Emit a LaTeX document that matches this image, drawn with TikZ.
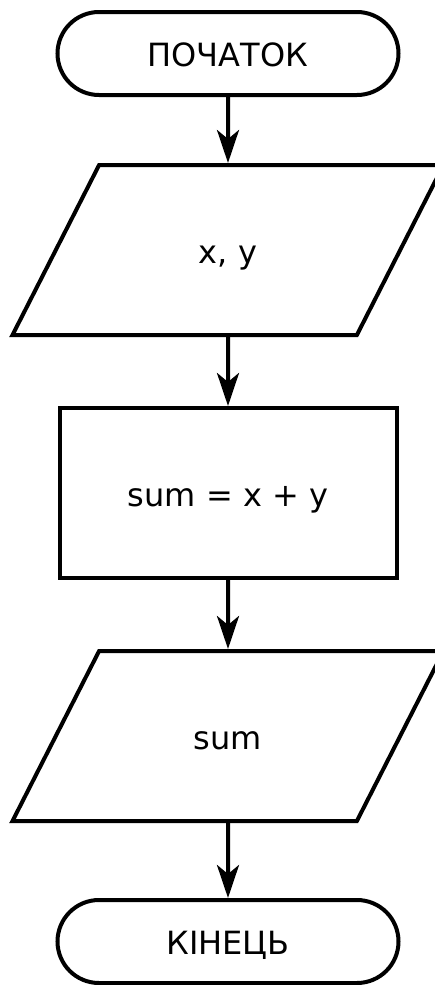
\documentclass[tikz,border=0pt]{standalone}
\usepackage{fontspec}
\setmainfont{DejaVu Sans}
\usetikzlibrary{arrows.meta,shapes.geometric}
\tikzset{
  block/.style={draw,line width=4pt,inner sep=0pt,text height=26pt,text depth=0pt,
    font=\fontsize{32}{38}\selectfont},
  terminal/.style={block,rectangle,rounded corners=41.5pt,minimum width=341pt,minimum height=83pt},
  inout/.style={block,trapezium,trapezium left angle=63,trapezium right angle=117,
    trapezium stretches body=true,inner ysep=72pt,minimum width=431pt},
  process/.style={block,rectangle,minimum width=337pt,minimum height=170pt},
  flow/.style={-{Stealth[length=33pt,width=22pt,inset=9pt]},line width=4pt}
}
\begin{document}
\begin{tikzpicture}[x=1pt,y=-1pt]
  \useasboundingbox (0,0) rectangle (434,985);
  \node[terminal] (start) at (228,53.5) {ПОЧАТОК};
  \node[inout] (input) at (228,250) {x, y};
  \node[process] (sum) at (228,493) {sum = x + y};
  \node[inout] (output) at (228,736) {sum};
  \node[terminal] (stop) at (228,941.5) {КІНЕЦЬ};
  \foreach \a/\b in {start/input,input/sum,sum/output,output/stop} {
    \draw[flow] (\a.south)--(\b.north);
  }
\end{tikzpicture}
\end{document}
